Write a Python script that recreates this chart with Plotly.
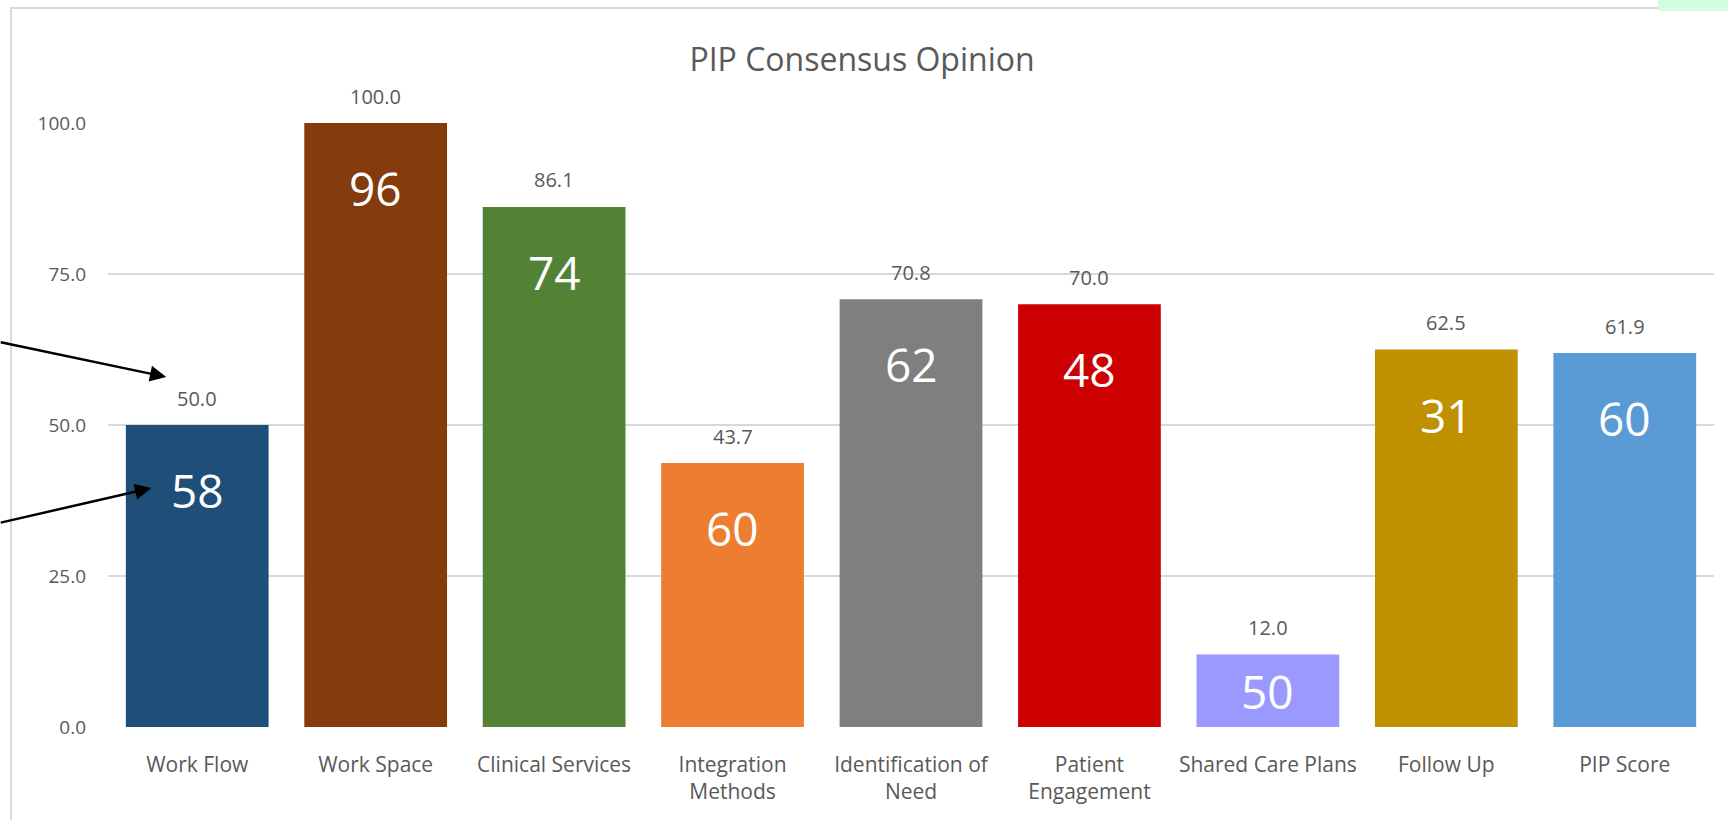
import plotly.graph_objects as go

# Consensus scores per PIP domain and the count shown inside each bar
categories = ["Work Flow", "Work Space", "Clinical Services", "Integration<br>Methods",
              "Identification of<br>Need", "Patient<br>Engagement", "Shared Care Plans",
              "Follow Up", "PIP Score"]
scores = [50.0, 100.0, 86.1, 43.7, 70.8, 70.0, 12.0, 62.5, 61.9]
counts = [58, 96, 74, 60, 62, 48, 50, 31, 60]
bar_colors = ["#1f4e79", "#843c0c", "#548235", "#ed7d31", "#7f7f7f",
              "#cc0000", "#9999ff", "#bf9000", "#5b9bd5"]
y_ticks = [0, 25, 50, 75, 100]

W, H = 1728, 820
M_L, M_R, M_T, M_B = 108, 14, 123, 93
plot_h = H - M_T - M_B
px_per_unit = plot_h / 100.0

TEXT_GRAY = "#595959"
FONT = "Open Sans"

fig = go.Figure(
    go.Bar(
        x=categories,
        y=scores,
        marker=dict(color=bar_colors, line=dict(width=0)),
        hoverinfo="skip",
    )
)

annotations = []
for cat, val, n in zip(categories, scores, counts):
    # score above each bar
    annotations.append(dict(
        x=cat, y=val, xref="x", yref="y", text=f"{val:.1f}", showarrow=False,
        yanchor="middle", yshift=27,
        font=dict(family=FONT, size=20, color=TEXT_GRAY),
    ))
    # count inside the bar, near its top (centred for short bars)
    annotations.append(dict(
        x=cat, y=val, xref="x", yref="y", text=str(n), showarrow=False,
        yanchor="middle", yshift=-min(65, val * px_per_unit / 2),
        font=dict(family=FONT, size=46, color="white"),
    ))

# pointer arrows toward the Work Flow score and count
annotations.append(dict(
    x=categories[0], y=scores[0], xref="x", yref="y", text="",
    showarrow=True, arrowhead=2, arrowsize=1.3, arrowwidth=2.5, arrowcolor="black",
    xshift=-31, yshift=48, ax=-167, ay=-35, standoff=0,
))
annotations.append(dict(
    x=categories[0], y=scores[0], xref="x", yref="y", text="",
    showarrow=True, arrowhead=2, arrowsize=1.3, arrowwidth=2.5, arrowcolor="black",
    xshift=-46, yshift=-63, ax=-152, ay=35, standoff=0,
))

shapes = [
    # outer chart frame
    dict(type="rect", xref="paper", yref="paper", xsizemode="pixel", ysizemode="pixel",
         xanchor=0, yanchor=1, x0=-97, x1=1700, y0=-800, y1=115,
         line=dict(color="#d9d9d9", width=2), fillcolor="rgba(0,0,0,0)", layer="below"),
    # small tinted block in the top-right corner
    dict(type="rect", xref="paper", yref="paper", xsizemode="pixel", ysizemode="pixel",
         xanchor=1, yanchor=1, x0=-56, x1=40, y0=112, y1=140,
         line=dict(width=0), fillcolor="#d4fde0", layer="above"),
]

fig.update_layout(
    width=W, height=H,
    margin=dict(l=M_L, r=M_R, t=M_T, b=M_B, pad=0),
    paper_bgcolor="white", plot_bgcolor="white",
    showlegend=False,
    bargap=0.2,
    title=dict(text="PIP Consensus Opinion", x=862 / W, xanchor="center",
               xref="container", y=1 - 60 / H, yref="container", yanchor="middle",
               font=dict(family=FONT, size=32, color=TEXT_GRAY)),
    xaxis=dict(range=[-0.5, len(categories) - 0.5], autorange=False,
               showgrid=False, showline=False, zeroline=False, ticks="",
               ticklabelstandoff=23,
               tickfont=dict(family=FONT, size=21, color=TEXT_GRAY)),
    yaxis=dict(range=[0, 100], autorange=False, tickvals=y_ticks, tickformat=".1f",
               showgrid=True, gridcolor="#d9d9d9", gridwidth=2,
               zeroline=False, showline=False, ticks="",
               ticklabelstandoff=21,
               tickfont=dict(family=FONT, size=19, color=TEXT_GRAY)),
    annotations=annotations,
    shapes=shapes,
    font=dict(family=FONT),
)

fig.write_html("out.html")
